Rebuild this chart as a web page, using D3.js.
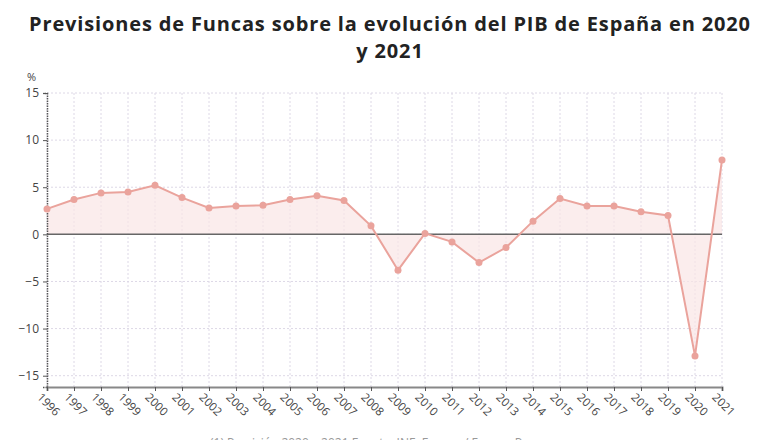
<!DOCTYPE html>
<html>
<head>
<meta charset="utf-8">
<script src="https://cdn.jsdelivr.net/npm/d3@7"></script>
<style>
  body { margin: 0; background: #fff; }
  svg text { font-family: "Open Sans", sans-serif; }
</style>
</head>
<body>
<div id="chart"></div>
<script>
// Crecimiento del PIB (%), estimado del gráfico
const years = [1996, 1997, 1998, 1999, 2000, 2001, 2002, 2003, 2004, 2005, 2006, 2007, 2008,
  2009, 2010, 2011, 2012, 2013, 2014, 2015, 2016, 2017, 2018, 2019, 2020, 2021];
const gdp = [2.7, 3.7, 4.4, 4.5, 5.2, 3.9, 2.8, 3.0, 3.1, 3.7, 4.1, 3.6, 0.9,
  -3.8, 0.1, -0.8, -3.0, -1.4, 1.4, 3.8, 3.0, 3.0, 2.4, 2.0, -12.9, 7.9];
const yTicks = [15, 10, 5, 0, -5, -10, -15];

const W = 780, H = 440;
const margin = { top: 93, right: 58, bottom: 53, left: 47 };

const svg = d3.select('#chart').append('svg')
  .attr('width', W).attr('height', H);

// titulo
svg.append('text')
  .attr('x', 390).attr('y', 31)
  .attr('text-anchor', 'middle')
  .attr('font-size', 20).attr('font-weight', 'bold').attr('fill', '#222')
  .attr('letter-spacing', 0.85)
  .selectAll('tspan')
  .data(['Previsiones de Funcas sobre la evolución del PIB de España en 2020', 'y 2021'])
  .enter().append('tspan')
  .attr('x', 390).attr('dy', (d, i) => i ? 27 : 0)
  .text(d => d);

const x = d3.scalePoint().domain(years).range([margin.left, W - margin.right]);
const y = d3.scaleLinear().domain([-16.2, 15]).range([H - margin.bottom, margin.top]);

const g = svg.append('g');

// rejilla
g.selectAll('.vgrid').data(years).enter().append('line')
  .attr('x1', d => x(d)).attr('x2', d => x(d))
  .attr('y1', y(15)).attr('y2', y(-16.2))
  .attr('stroke', '#ddd8e6').attr('stroke-dasharray', '2,2');
g.selectAll('.hgrid').data(yTicks).enter().append('line')
  .attr('x1', x(1996)).attr('x2', x(2021))
  .attr('y1', d => y(d)).attr('y2', d => y(d))
  .attr('stroke', '#ddd8e6').attr('stroke-dasharray', '2,2');

// area hasta cero
const pts = years.map((yr, i) => ({ yr, v: gdp[i] }));
g.append('path')
  .datum(pts)
  .attr('d', d3.area().x(d => x(d.yr)).y0(y(0)).y1(d => y(d.v)))
  .attr('fill', '#f9e6e5').attr('opacity', 0.7);

// linea cero
g.append('line')
  .attr('x1', x(1996)).attr('x2', x(2021))
  .attr('y1', y(0)).attr('y2', y(0))
  .attr('stroke', '#666').attr('stroke-width', 1.5);

// ejes
const yAxis = g.append('g')
  .attr('transform', `translate(${margin.left},0)`)
  .call(d3.axisLeft(y).tickValues(yTicks).tickSize(4).tickPadding(4));
yAxis.select('.domain').attr('stroke', '#555').attr('stroke-dasharray', '1.5,1').attr('stroke-width', 1.5);
yAxis.selectAll('.tick line').attr('stroke', '#555');
yAxis.selectAll('text').attr('font-size', 12).attr('fill', '#444')
  .style('font-family', '"Open Sans", sans-serif');

const xAxis = g.append('g')
  .attr('transform', `translate(0,${H - margin.bottom})`)
  .call(d3.axisBottom(x).tickSize(4).tickPadding(3).tickFormat(d3.format('d')));
xAxis.select('.domain').attr('stroke', '#888').attr('stroke-width', 2);
xAxis.selectAll('.tick line').attr('stroke', '#555');
xAxis.selectAll('text')
  .attr('font-size', 11.5).attr('fill', '#444')
  .attr('text-anchor', 'start')
  .attr('transform', 'translate(-2,2) rotate(45)')
  .attr('dy', '0.5em')
  .style('font-family', '"Open Sans", sans-serif');

svg.append('text')
  .attr('x', 27).attr('y', 81)
  .attr('font-size', 11).attr('fill', '#444')
  .text('%');

// serie
const color = '#eaa39c';
g.append('path')
  .datum(pts)
  .attr('d', d3.line().x(d => x(d.yr)).y(d => y(d.v)))
  .attr('fill', 'none').attr('stroke', color).attr('stroke-width', 2);
g.selectAll('.dot').data(pts).enter().append('circle')
  .attr('cx', d => x(d.yr)).attr('cy', d => y(d.v))
  .attr('r', 3.5).attr('fill', color);

// fuente (cortada en el borde, como en la imagen original)
svg.append('text')
  .attr('x', 210).attr('y', 447)
  .attr('font-size', 12).attr('fill', '#999')
  .text('(1) Previsión 2020 y 2021     Fuente: INE, Funcas / Europa Press');
</script>
</body>
</html>
